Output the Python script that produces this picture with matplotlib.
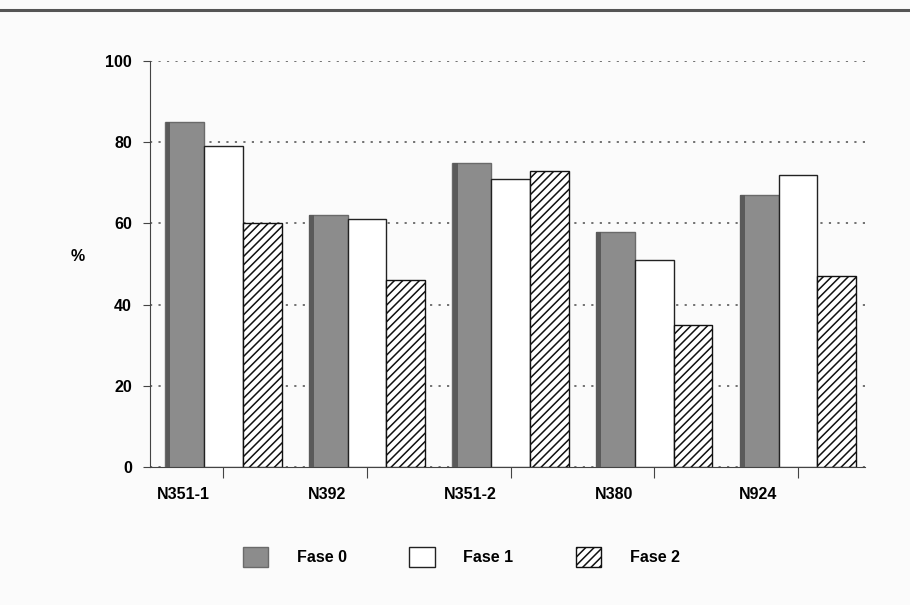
import matplotlib.pyplot as plt
import matplotlib.transforms as mtransforms
from matplotlib.lines import Line2D
import numpy as np

plt.rcParams['font.family'] = ['Liberation Sans', 'DejaVu Sans']
plt.rcParams['hatch.linewidth'] = 1.1

# Data
strains = ['N351-1', 'N392', 'N351-2', 'N380', 'N924']
phases = ['Fase 0', 'Fase 1', 'Fase 2']
fase0 = [85, 62, 75, 58, 67]
fase1 = [79, 61, 71, 51, 72]
fase2 = [60, 46, 73, 35, 47]

x = np.arange(len(strains))
width = 0.27

fig = plt.figure(figsize=(9.1, 6.05), dpi=100)
fig.patch.set_facecolor('#fbfbfb')
ax = fig.add_axes([0.165, 0.228, 0.786, 0.671])
ax.set_facecolor('#fbfbfb')

# dark rule along the top of the page
fig.add_artist(Line2D([0.0, 1.0], [0.983, 0.983], color='#555555', lw=2.2))

ax.bar(x - width, fase0, width, color='#8c8c8c', edgecolor='#6a6a6a', linewidth=1, label=phases[0], zorder=3)
# darker shading along the left edge of the grey bars
ax.bar(x - width - width * 0.43, fase0, width * 0.12, color='#5a5a5a', linewidth=0, zorder=4)
ax.bar(x, fase1, width, color='white', edgecolor='#222222', linewidth=1, label=phases[1], zorder=3)
ax.bar(x + width, fase2, width, color='white', edgecolor='#111111', hatch='////', linewidth=1, label=phases[2], zorder=3)

ax.set_ylim(0, 100)
ax.set_xlim(-0.51, 4.47)
ax.set_yticks([0, 20, 40, 60, 80, 100])
ax.yaxis.grid(True, linestyle=(0, (1.2, 3.5)), color='#666666', linewidth=1.3)
ax.set_axisbelow(True)

for side in ['top', 'right']:
    ax.spines[side].set_visible(False)
ax.spines['left'].set_color('#444444')
ax.spines['bottom'].set_color('#444444')

ax.set_xticks(x)
ax.set_xticklabels(strains, fontsize=11.5, fontweight='bold')
ax.tick_params(axis='x', length=8, color='#444444', pad=6)
ax.tick_params(axis='y', length=5, color='#444444', labelsize=11.5, pad=8)
for lbl in ax.get_yticklabels():
    lbl.set_fontweight('bold')

# shift the category names a little to the left of the ticks
offset = mtransforms.ScaledTranslation(-0.40, 0, fig.dpi_scale_trans)
for lbl in ax.get_xticklabels():
    lbl.set_transform(lbl.get_transform() + offset)

ax.set_ylabel('%', rotation=0, fontsize=11.5, fontweight='bold', labelpad=20)

leg = fig.legend(loc='center', bbox_to_anchor=(0.507, 0.079), ncol=3, frameon=False,
                 handlelength=1.6, handleheight=1.6, columnspacing=3.9, handletextpad=1.8,
                 prop={'weight': 'bold', 'size': 11.5})

plt.savefig('out.png', dpi=100, facecolor=fig.get_facecolor())
